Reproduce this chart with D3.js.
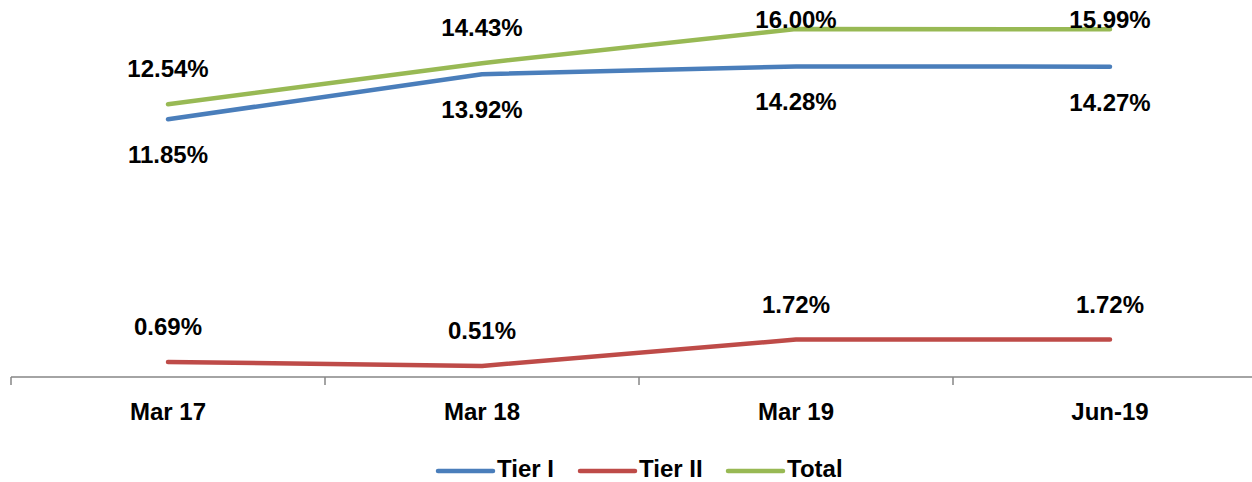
<!DOCTYPE html>
<html>
<head>
<meta charset="utf-8">
<script src="https://cdn.jsdelivr.net/npm/d3@7"></script>
<style>
  html, body { margin: 0; padding: 0; background: #fff; }
  svg { display: block; font-family: "Liberation Sans", Arial, sans-serif; font-weight: bold; }
</style>
</head>
<body>
<svg id="chart" width="1252" height="482"></svg>
<script>
// Capital adequacy ratios by period
const categories = ["Mar 17", "Mar 18", "Mar 19", "Jun-19"];
const tier1 = [11.85, 13.92, 14.28, 14.27];
const tier2 = [0.69, 0.51, 1.72, 1.72];
const total = [12.54, 14.43, 16.00, 15.99];

const series = [
  { name: "Tier I",  values: tier1, color: "#4a7ebb", labelPos: "below" },
  { name: "Tier II", values: tier2, color: "#be4b48", labelPos: "above" },
  { name: "Total",   values: total, color: "#98b954", labelPos: "above" }
];

const svg = d3.select("#chart");
const plot = { left: 11, right: 1267, top: 29, bottom: 377 };

const x = d3.scaleBand().domain(categories).range([plot.left, plot.right]);
const cx = c => x(c) + x.bandwidth() / 2;
const y = d3.scaleLinear().domain([0, 16]).range([plot.bottom, plot.top]);

// category axis
const axis = svg.append("g").attr("transform", `translate(0,${plot.bottom})`);
axis.append("line")
  .attr("x1", plot.left).attr("x2", 1252)
  .attr("stroke", "#868686").attr("stroke-width", 1.5);
const bounds = categories.map(c => x(c));
axis.selectAll("line.tick").data(bounds).join("line")
  .attr("class", "tick")
  .attr("x1", d => d).attr("x2", d => d)
  .attr("y1", 0).attr("y2", 8)
  .attr("stroke", "#868686").attr("stroke-width", 1.5);
axis.selectAll("text").data(categories).join("text")
  .attr("x", d => cx(d)).attr("y", 43)
  .attr("text-anchor", "middle")
  .attr("font-size", 24)
  .attr("fill", "#000")
  .text(d => d);

// lines
const line = d3.line()
  .x((d, i) => cx(categories[i]))
  .y(d => y(d));

svg.selectAll("path.series").data(series).join("path")
  .attr("class", "series")
  .attr("d", s => line(s.values))
  .attr("fill", "none")
  .attr("stroke", s => s.color)
  .attr("stroke-width", 4.5)
  .attr("stroke-linecap", "round")
  .attr("stroke-linejoin", "round");

// value labels
series.forEach(s => {
  svg.append("g").selectAll("text").data(s.values).join("text")
    .attr("x", (d, i) => cx(categories[i]))
    .attr("y", d => s.labelPos === "above" ? Math.max(y(d) - 27, 28) : y(d) + 44)
    .attr("text-anchor", "middle")
    .attr("font-size", 24)
    .attr("fill", "#000")
    .text(d => d.toFixed(2) + "%");
});

// legend
const legendItems = [
  { s: series[0], x: 438 },
  { s: series[1], x: 580 },
  { s: series[2], x: 728 }
];
const lg = svg.append("g");
legendItems.forEach(item => {
  lg.append("line")
    .attr("x1", item.x).attr("x2", item.x + 55)
    .attr("y1", 471).attr("y2", 471)
    .attr("stroke", item.s.color).attr("stroke-width", 4.5)
    .attr("stroke-linecap", "round");
  lg.append("text")
    .attr("x", item.x + 59).attr("y", 477)
    .attr("font-size", 24)
    .attr("fill", "#000")
    .text(item.s.name);
});
</script>
</body>
</html>
